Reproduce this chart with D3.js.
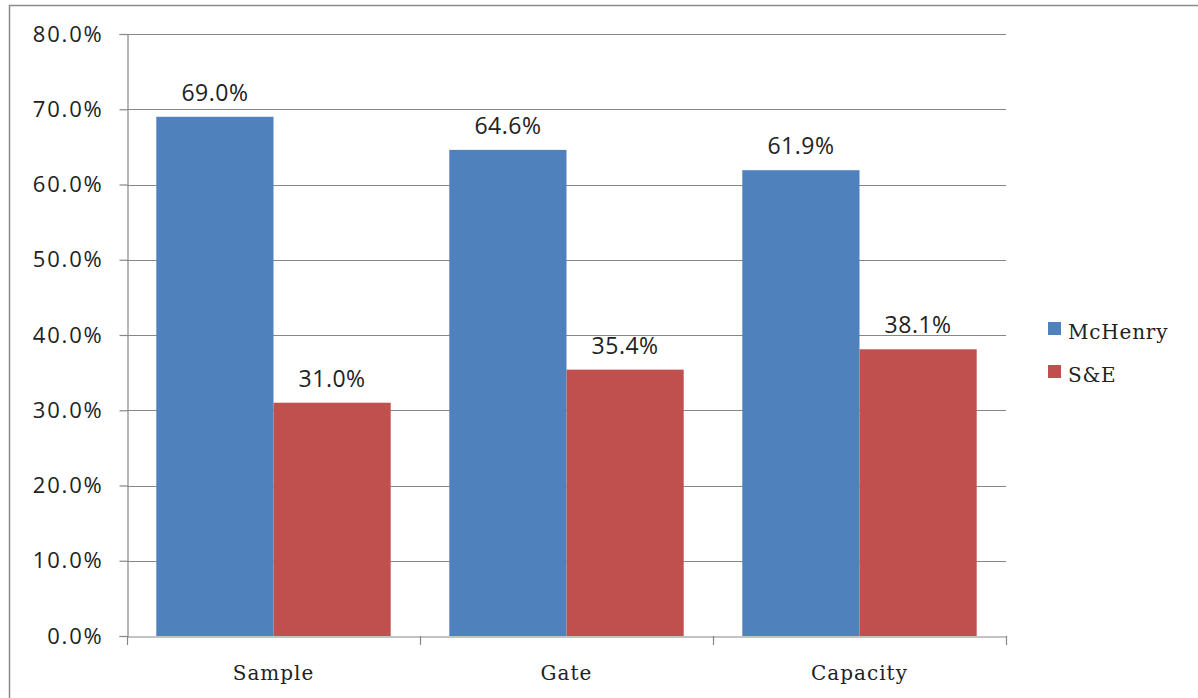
<!DOCTYPE html>
<html>
<head>
<meta charset="utf-8">
<script src="https://cdn.jsdelivr.net/npm/d3@7"></script>
<style>
  html, body { margin: 0; padding: 0; background: #fff; }
  svg { display: block; }
</style>
</head>
<body>
<svg id="chart" width="1198" height="698"></svg>
<script>
// Share of tickets by category for the two providers
const categories = ["Sample", "Gate", "Capacity"];
const seriesNames = ["McHenry", "S&E"];
const mchenryValues = [69.0, 64.6, 61.9];
const seValues = [31.0, 35.4, 38.1];
const yTicks = [0, 10, 20, 30, 40, 50, 60, 70, 80];
const seriesColors = ["#4F81BD", "#C0504D"];

const svg = d3.select("#chart");
const plot = { left: 127, right: 1006, top: 34, bottom: 636 };
const sansFont = "'Open Sans', 'Noto Sans', sans-serif";
const serifFont = "'DejaVu Serif', 'Liberation Serif', serif";

// Outer frame
svg.append("path")
  .attr("d", "M9.5,698 V5.5 H1198")
  .attr("fill", "none")
  .attr("stroke", "#8c8c8c")
  .attr("stroke-width", 1.5);

const x0 = d3.scaleBand().domain(categories).range([plot.left, plot.right]).paddingInner(0).paddingOuter(0);
const x1 = d3.scaleBand().domain(seriesNames).range([0, x0.bandwidth()]).paddingInner(0).paddingOuter(0.25);
const y = d3.scaleLinear().domain([0, 80]).range([plot.bottom, plot.top]);

// Horizontal gridlines
svg.append("g")
  .selectAll("line")
  .data(yTicks.filter(d => d > 0))
  .join("line")
  .attr("x1", plot.left).attr("x2", plot.right)
  .attr("y1", d => Math.round(y(d)) + 0.5).attr("y2", d => Math.round(y(d)) + 0.5)
  .attr("stroke", "#878787").attr("stroke-width", 1.2);

// Y axis
const yAxis = d3.axisLeft(y).tickValues(yTicks).tickSize(8).tickPadding(16)
  .tickFormat(d => d.toFixed(1) + "%");
const gy = svg.append("g").attr("transform", `translate(${plot.left + 0.5},0)`).call(yAxis);
gy.select(".domain").attr("stroke", "#878787").attr("stroke-width", 1.2);
gy.selectAll(".tick line").attr("stroke", "#878787").attr("stroke-width", 1.2);
gy.selectAll(".tick text")
  .attr("font-family", sansFont)
  .attr("font-size", 22).attr("fill", "#222")
  .attr("letter-spacing", "1.8px");

// Bars
const rows = categories.map((c, i) => ({ cat: c, vals: [mchenryValues[i], seValues[i]] }));
const groups = svg.append("g").selectAll("g")
  .data(rows).join("g")
  .attr("transform", d => `translate(${x0(d.cat)},0)`);

groups.selectAll("rect")
  .data(d => d.vals.map((v, j) => ({ name: seriesNames[j], v, j })))
  .join("rect")
  .attr("x", d => x1(d.name))
  .attr("width", x1.bandwidth())
  .attr("y", d => y(d.v))
  .attr("height", d => y(0) - y(d.v))
  .attr("fill", d => seriesColors[d.j]);

// Value labels
groups.selectAll("text")
  .data(d => d.vals.map((v, j) => ({ name: seriesNames[j], v, j })))
  .join("text")
  .attr("x", d => x1(d.name) + x1.bandwidth() / 2)
  .attr("y", d => y(d.v) - 16)
  .attr("text-anchor", "middle")
  .attr("font-family", sansFont)
  .attr("font-size", 23).attr("fill", "#222")
  .attr("letter-spacing", "0.5px")
  .text(d => d.v.toFixed(1) + "%");

// X axis
const xAxis = d3.axisBottom(x0).tickSize(0).tickPadding(0);
const gx = svg.append("g").attr("transform", `translate(0,${plot.bottom + 0.5})`).call(xAxis);
gx.select(".domain").attr("stroke", "#878787").attr("stroke-width", 1.2);
gx.selectAll(".tick text")
  .attr("y", 43)
  .attr("dy", 0)
  .attr("font-family", serifFont)
  .attr("font-size", 20).attr("fill", "#222")
  .attr("letter-spacing", "1px");

// Category boundary ticks
svg.append("g").selectAll("line")
  .data(d3.range(categories.length + 1))
  .join("line")
  .attr("x1", i => Math.round(plot.left + i * x0.bandwidth()) + 0.5)
  .attr("x2", i => Math.round(plot.left + i * x0.bandwidth()) + 0.5)
  .attr("y1", plot.bottom).attr("y2", plot.bottom + 9)
  .attr("stroke", "#878787").attr("stroke-width", 1.2);

// Legend
const legend = svg.append("g").attr("transform", "translate(1048,322)");
const items = legend.selectAll("g").data(seriesNames).join("g")
  .attr("transform", (d, i) => `translate(0,${i * 43})`);
items.append("rect").attr("width", 13).attr("height", 13)
  .attr("fill", (d, i) => seriesColors[i]);
items.append("text").attr("x", 20).attr("y", 17)
  .attr("font-family", serifFont)
  .attr("font-size", 20).attr("fill", "#222")
  .attr("letter-spacing", "0.8px")
  .text(d => d);
</script>
</body>
</html>
